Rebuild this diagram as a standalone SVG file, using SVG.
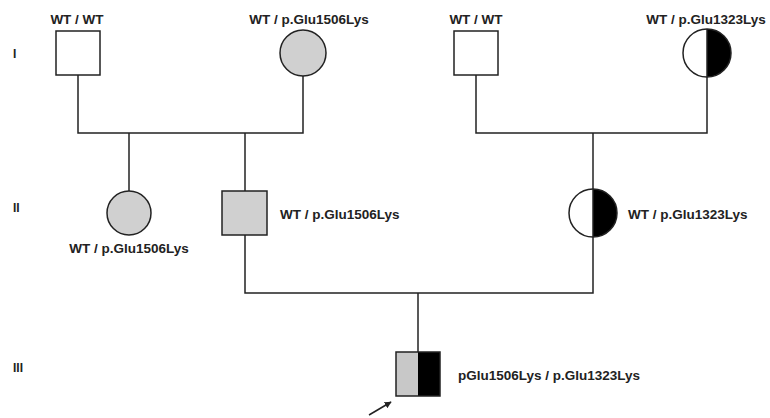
<svg xmlns="http://www.w3.org/2000/svg" width="770" height="418" viewBox="0 0 770 418">
<style>
.t{font-family:"Liberation Sans",Arial,sans-serif;font-weight:bold;font-size:13.5px;fill:#222}
.g{font-family:"Liberation Sans",Arial,sans-serif;font-weight:bold;font-size:12px;fill:#222}
.s{stroke:#222;stroke-width:1.5}
.ln{stroke:#222;stroke-width:1.5;fill:none}
</style>
<defs>
<marker id="ah" viewBox="0 0 10 10" refX="9" refY="5" markerWidth="7" markerHeight="7" orient="auto" markerUnits="userSpaceOnUse">
<path d="M0,0 L10,5 L0,10 z" fill="#222"/>
</marker>
</defs>
<rect width="770" height="418" fill="#fff"/>
<g id="generations">
<text class="g" x="13" y="58">I</text>
<text class="g" x="13" y="212">II</text>
<text class="g" x="13" y="372">III</text>
</g>
<g id="connectors" class="ln">
<path d="M78,75 V133 H303 V76"/>
<path d="M129,133 V191"/>
<path d="M245,133 V191"/>
<path d="M476,75 V133 H707 V77"/>
<path d="M593,133 V189"/>
<path d="M245,235 V293 H593 V237"/>
<path d="M418,293 V352"/>
<path d="M369,415 L391,402" marker-end="url(#ah)"/>
</g>
<g id="I-1">
<rect class="s" x="56" y="31" width="44" height="44" fill="#fff"/>
<text class="t" x="77" y="24" text-anchor="middle">WT / WT</text>
</g>
<g id="I-2">
<circle class="s" cx="303" cy="53" r="23" fill="#d0d0d0"/>
<text class="t" x="309" y="24" text-anchor="middle">WT / p.Glu1506Lys</text>
</g>
<g id="I-3">
<rect class="s" x="454" y="31" width="44" height="44" fill="#fff"/>
<text class="t" x="476" y="24" text-anchor="middle">WT / WT</text>
</g>
<g id="I-4">
<path d="M707,29 A24,24 0 0 1 707,77 Z" fill="#000"/>
<circle class="s" cx="707" cy="53" r="24" fill="none"/>
<line class="s" x1="707" y1="29" x2="707" y2="77"/>
<text class="t" x="706" y="24" text-anchor="middle">WT / p.Glu1323Lys</text>
</g>
<g id="II-1">
<circle class="s" cx="129" cy="213" r="22" fill="#d0d0d0"/>
<text class="t" x="129" y="253" text-anchor="middle">WT / p.Glu1506Lys</text>
</g>
<g id="II-2">
<rect class="s" x="222" y="191" width="45" height="44" fill="#d0d0d0"/>
<text class="t" x="280" y="219">WT / p.Glu1506Lys</text>
</g>
<g id="II-3">
<path d="M593,189 A24,24 0 0 1 593,237 Z" fill="#000"/>
<circle class="s" cx="593" cy="213" r="24" fill="none"/>
<line class="s" x1="593" y1="189" x2="593" y2="237"/>
<text class="t" x="628" y="219">WT / p.Glu1323Lys</text>
</g>
<g id="III-1">
<rect x="396" y="352" width="22" height="44" fill="#c8c8c8"/>
<rect x="418" y="352" width="22" height="44" fill="#000"/>
<rect class="s" x="396" y="352" width="44" height="44" fill="none"/>
<text class="t" x="458" y="380">pGlu1506Lys / p.Glu1323Lys</text>
</g>
</svg>
